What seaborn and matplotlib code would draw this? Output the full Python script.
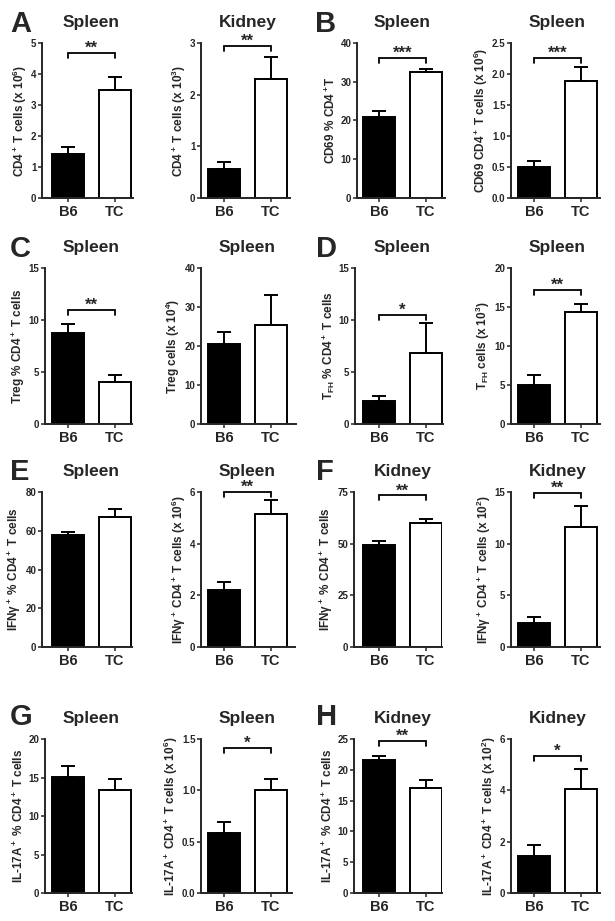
"""
CD4 T cell subsets in B6 vs TC mice, spleen and kidney (panels A-H)
"""
import numpy as np
import pandas as pd
import matplotlib
matplotlib.use('Agg')
import matplotlib.pyplot as plt
import matplotlib.transforms as mtransforms
import seaborn as sns

sns.set_style('ticks')
plt.rcParams['font.family'] = ['Liberation Sans', 'DejaVu Sans']
plt.rcParams['font.weight'] = 'bold'
plt.rcParams['mathtext.fontset'] = 'custom'
plt.rcParams['mathtext.rm'] = 'Liberation Sans:bold'
plt.rcParams['mathtext.bf'] = 'Liberation Sans:bold'
plt.rcParams['mathtext.it'] = 'Liberation Sans:bold'
plt.rcParams['mathtext.default'] = 'bf'

# ---- data ----
groups = ['B6', 'TC']
letters = ['A', 'B', 'C', 'D', 'E', 'F', 'G', 'H']
tissues = ['Spleen', 'Kidney', 'Spleen', 'Spleen',
           'Spleen', 'Spleen', 'Spleen', 'Spleen',
           'Spleen', 'Spleen', 'Kidney', 'Kidney',
           'Spleen', 'Spleen', 'Kidney', 'Kidney']
ylabels = [
    'CD4$^+$ T cells (x 10$^6$)', 'CD4$^+$ T cells (x 10$^3$)',
    'CD69 % CD4$^+$T', 'CD69 CD4$^+$ T cells (x 10$^6$)',
    'Treg % CD4$^+$ T cells', 'Treg cells (x 10$^4$)',
    'T$_{FH}$ % CD4$^+$ T cells', 'T$_{FH}$ cells (x 10$^3$)',
    'IFNγ$^+$ % CD4$^+$ T cells', 'IFNγ$^+$ CD4$^+$ T cells (x 10$^6$)',
    'IFNγ$^+$ % CD4$^+$ T cells', 'IFNγ$^+$ CD4$^+$ T cells (x 10$^2$)',
    'IL-17A$^+$ % CD4$^+$ T cells', 'IL-17A$^+$ CD4$^+$ T cells (x 10$^6$)',
    'IL-17A$^+$ % CD4$^+$ T cells', 'IL-17A$^+$ CD4$^+$ T cells (x 10$^2$)',
]
b6_mean = [1.42, 0.56, 21.0, 0.50, 8.76, 20.4, 2.25, 5.06,
           57.8, 2.22, 49.5, 2.37, 15.02, 0.584, 21.65, 1.45]
b6_sem = [0.22, 0.13, 1.4, 0.09, 0.81, 3.1, 0.45, 1.22,
          1.5, 0.31, 2.0, 0.58, 1.43, 0.11, 0.55, 0.41]
tc_mean = [3.47, 2.31, 32.5, 1.88, 4.05, 25.3, 6.86, 14.33,
           67.1, 5.16, 59.9, 11.59, 13.42, 1.0, 17.05, 4.04]
tc_sem = [0.44, 0.41, 0.9, 0.23, 0.69, 7.8, 2.83, 1.04,
          4.3, 0.54, 1.8, 2.1, 1.38, 0.11, 1.25, 0.80]
y_max = [5, 3, 40, 2.5, 15, 40, 15, 20, 80, 6, 75, 15, 20, 1.5, 25, 6]
y_step = [1, 1, 10, 0.5, 5, 10, 5, 5, 20, 2, 25, 5, 5, 0.5, 5, 2]
stars = ['**', '**', '***', '***', '**', '', '*', '**',
         '', '**', '**', '**', '', '*', '**', '*']
bracket_y = [4.68, 2.94, 36.1, 2.26, 11.0, None, 10.5, 17.2,
             None, 6.0, 73.4, 14.94, None, 1.41, 24.7, 5.33]

# ---- layout in pixels ----
W, H = 615, 921
col_center = [68, 224, 379, 534]   # B6 bar centre per column
spacing = 47                        # px between B6 and TC
row_tb = [(43, 198), (268, 424), (492, 647), (739, 893)]
ax_left = [42, 201, 357, 511, 45, 201, 355, 511,
           42, 201, 354, 511, 45, 201, 354, 511]
ax_right = [133, 290, 445, 600, 132, 296, 443, 600,
            132, 295, 442, 600, 132, 292, 442, 600]
letter_pos = [(10, 32), (315, 32), (10, 257), (316, 257),
              (10, 480), (316, 480), (10, 725), (316, 725)]

fig = plt.figure(figsize=(W / 100, H / 100), dpi=100)
lw = 1.4

for i in range(16):
    row, col = i // 4, i % 4
    top, bottom = row_tb[row]
    left, right = ax_left[i], ax_right[i]
    ax = fig.add_axes([left / W, 1 - bottom / H, (right - left) / W, (bottom - top) / H])

    df = pd.DataFrame({'group': groups, 'value': [b6_mean[i], tc_mean[i]]})
    sns.barplot(data=df, x='group', y='value', hue='group',
                palette=['black', 'white'], edgecolor='black', linewidth=lw,
                width=0.66, errorbar=None, legend=False, ax=ax)
    ax.errorbar([0, 1], [b6_mean[i], tc_mean[i]],
                yerr=[[0, 0], [b6_sem[i], tc_sem[i]]],
                fmt='none', ecolor='black', elinewidth=lw, capsize=5, capthick=lw,
                zorder=5)

    c = col_center[col]
    ax.set_xlim((left - c) / spacing, (right - c) / spacing)
    ax.set_ylim(0, y_max[i])
    ticks = np.arange(0, y_max[i] + y_step[i] / 2, y_step[i])
    ax.set_yticks(ticks)
    if y_step[i] < 1:
        ax.set_yticklabels([f'{t:.1f}' for t in ticks])
    else:
        ax.set_yticklabels([f'{t:g}' for t in ticks])

    ax.set_xlabel('')
    ax.set_ylabel(ylabels[i], fontsize=8.5, fontweight='bold', labelpad=1.5)
    ax.tick_params(axis='y', labelsize=7, length=3, width=1.1, pad=1)
    ax.tick_params(axis='x', labelsize=10.5, length=3, width=1.1, pad=2)
    for lab in ax.get_xticklabels() + ax.get_yticklabels():
        lab.set_fontweight('bold')
    sns.despine(ax=ax)
    for s in ['left', 'bottom']:
        ax.spines[s].set_linewidth(lw)

    # tissue title, centred between the bars
    trans = mtransforms.blended_transform_factory(ax.transData, ax.transAxes)
    ax.text(0.5, 1 + 16 / (bottom - top), tissues[i], transform=trans,
            ha='center', va='baseline', fontsize=12.5, fontweight='bold')

    # significance bracket
    if bracket_y[i] is not None:
        by = bracket_y[i]
        drop = 5 / (bottom - top) * y_max[i]
        ax.plot([0, 0, 1, 1], [by - drop, by, by, by - drop], color='black',
                lw=1.3, clip_on=False, solid_joinstyle='miter')
        ax.annotate(stars[i], (0.5, by), xytext=(0, 0), textcoords='offset points',
                    ha='center', va='baseline', fontsize=12, fontweight='bold',
                    annotation_clip=False)

for letter, (x, y) in zip(letters, letter_pos):
    fig.text(x / W, 1 - y / H, letter, fontsize=21, fontweight='bold',
             ha='left', va='baseline')

fig.savefig('out.png', dpi=100)
